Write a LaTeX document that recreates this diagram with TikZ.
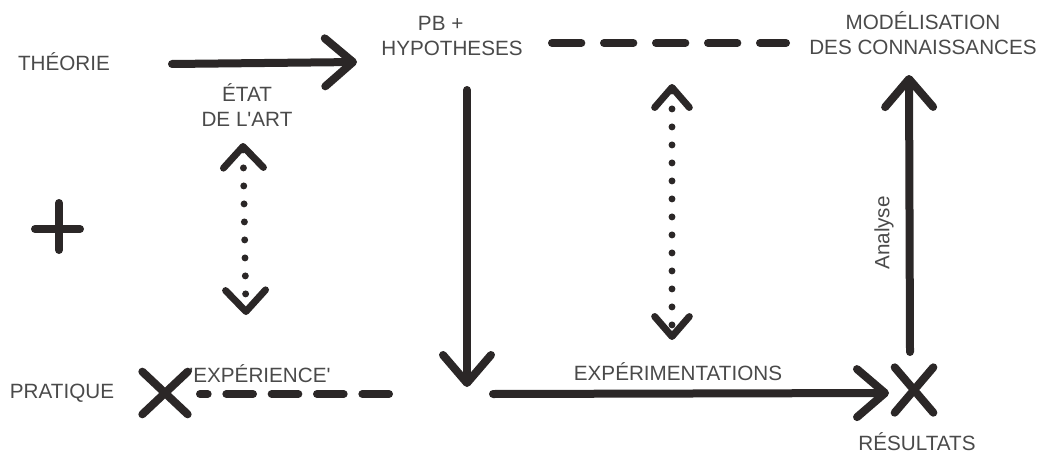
\documentclass[tikz,border=0pt]{standalone}
\usepackage{fontspec}
\newfontfamily\lblfont{Liberation Sans}
\usetikzlibrary{arrows.meta,shapes.misc}
\definecolor{ink}{HTML}{2B2727}
\definecolor{txt}{HTML}{4A4A4A}
\begin{document}
\begin{tikzpicture}[x=0.75pt,y=-0.75pt,
  lbl/.style={font=\lblfont\fontsize{15.5}{19}\selectfont, text=txt, inner sep=0pt},
  pen/.style={draw=ink, line width=6pt, line cap=round, line join=round},
  bigtip/.style={-{Straight Barb[length=21pt,width=36pt,line cap=round,line join=round]}},
  dashpen/.style={pen, dash pattern=on 22pt off 17pt},
  dashpenb/.style={pen, dash pattern=on 20pt off 14pt},
  dotpen/.style={draw=ink, line width=5.2pt, line cap=round, dash pattern=on 0pt off 13.5pt},
  dottipL/.style={{Straight Barb[length=16pt,width=30pt,line cap=round,line join=round]}-{Straight Barb[length=16pt,width=30pt,line cap=round,line join=round]}},
  dottipR/.style={{Straight Barb[length=15pt,width=26pt,line cap=round,line join=round]}-{Straight Barb[length=15pt,width=26pt,line cap=round,line join=round]}},
  cross/.style={cross out, draw=ink, line width=6pt, line cap=round, inner sep=0pt}
]
\useasboundingbox (0,0) rectangle (1059,453);

% labels
\node[lbl, anchor=base] (theorie) at (64,70) {THÉORIE};
\node[lbl, align=center] (hyp) at (452,36) {PB +\hspace*{17pt}\\HYPOTHESES};
\node[lbl, align=center] (etat) at (247,105) {ÉTAT\\DE L'ART};
\node[lbl, align=center] (model) at (923,33) {MODÉLISATION\\DES CONNAISSANCES};
\node[lbl, anchor=base] (pratique) at (62,398) {PRATIQUE};
\node[lbl, anchor=base] (experience) at (260,382) {'EXPÉRIENCE'};
\node[lbl, anchor=base] (experim) at (678,380) {EXPÉRIMENTATIONS};
\node[lbl, anchor=base] (resultats) at (917,450) {RÉSULTATS};
\node[lbl, rotate=90] (analyse) at (884,233) {Analyse};

% crosses marking practice and results
\node[cross, minimum width=28pt, minimum height=26pt] (xp) at (165,393) {};
\node[cross, minimum width=23pt, minimum height=28pt] (xr) at (914,390) {};

% the plus sign
\coordinate (plw) at (35,229);
\coordinate (ple) at (80,229);
\coordinate (pln) at (59,203);
\coordinate (pls) at (59,250);
\draw[pen] (plw) -- (ple);
\draw[pen] (pln) -- (pls);

% main flow
\coordinate (t1) at (172,64);
\coordinate (t2) at (357,62);
\draw[pen, bigtip] (t1) -- (t2);

\coordinate (h1) at (467,90);
\coordinate (h2) at (467,387);
\draw[pen, bigtip] (h1) -- (h2);

\coordinate (e1) at (493,394);
\coordinate (e2) at (889,393);
\draw[pen, bigtip] (e1) -- (e2);

\coordinate (r1) at (910,352);
\coordinate (r2) at (909,75);
\draw[pen, bigtip] (r1) -- (r2);

% dashed links
\coordinate (d1) at (552,43);
\coordinate (d2) at (786,43);
\draw[dashpen] (d1) -- (d2);

\coordinate (b1) at (389,394);
\coordinate (b2) at (200,394);
\draw[dashpenb] (b1) -- (b2);

% dotted two-way arrows
\coordinate (lv1) at (243,143);
\coordinate (lv2) at (246,315);
\draw[dotpen, dottipL] (lv1) -- (lv2);

\coordinate (rv1) at (672,84);
\coordinate (rv2) at (672,340);
\draw[dotpen, dottipR] (rv1) -- (rv2);
\end{tikzpicture}
\end{document}
